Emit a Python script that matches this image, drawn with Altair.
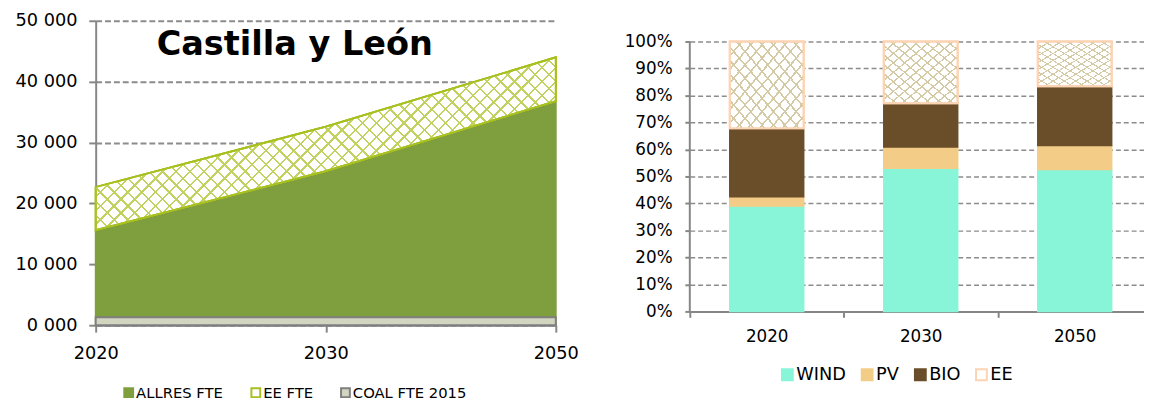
import altair as alt
import pandas as pd

# ---------------- data ----------------
years = ["2020", "2030", "2050"]

# left panel (FTE)
region_title = "Castilla y León"
left_series = ["ALLRES FTE", "EE FTE", "COAL FTE 2015"]
allres_fte = [15600, 25300, 36800]
ee_fte = [7100, 7300, 7200]          # stacked on top of ALLRES
coal_fte_2015 = [1300, 1300, 1300]
left_ticks = [0, 10000, 20000, 30000, 40000, 50000]

# right panel (shares, %)
right_series = ["WIND", "PV", "BIO", "EE"]
wind_share = [39.0, 53.0, 52.6]
pv_share = [3.5, 7.9, 8.9]
bio_share = [25.3, 16.2, 21.9]
ee_share = [32.2, 22.9, 16.6]
right_ticks = [0, 10, 20, 30, 40, 50, 60, 70, 80, 90, 100]

# ---------------- styles ----------------
FONT = "DejaVu Sans"
GREEN = "#7f9f3f"
EE_LINE = "#a8c020"
EE_HATCH = "#c2d260"
COAL_FILL = "#d2d6c0"
COAL_LINE = "#7f7f7f"
AXIS_GREY = "#868686"
GRID_GREY = "#8c8c8c"
WIND_C = "#89f5d8"
PV_C = "#f3cd88"
BIO_C = "#6a4e2a"
EE2_LINE = "#fcd4b4"
EE2_HATCH = "#d4caa6"


def stripes(color, n, frac, x1, y1, x2, y2):
    stops = []
    clear = "rgba(255,255,255,0)"
    for k in range(n):
        a = k / n
        b = (k + frac) / n
        c = (k + 1) / n
        stops += [
            {"offset": a, "color": color},
            {"offset": b, "color": color},
            {"offset": b, "color": clear},
            {"offset": c, "color": clear},
        ]
    return {"gradient": "linear", "x1": x1, "y1": y1, "x2": x2, "y2": y2, "stops": stops}


# ---------------- left panel ----------------
rows = []
for i, yr in enumerate(years):
    rows.append({"year": yr, "series": "ALLRES FTE", "value": allres_fte[i], "order": 0})
    rows.append({"year": yr, "series": "EE FTE", "value": ee_fte[i], "order": 1})
    rows.append({"year": yr, "series": "COAL FTE 2015", "value": coal_fte_2015[i], "order": 2})
df_left = pd.DataFrame(rows)

xL = alt.X(
    "year:O",
    scale=alt.Scale(type="point", padding=0, domain=years),
    axis=alt.Axis(
        title=None, labelAngle=0, labelFont=FONT, labelFontSize=18, labelColor="#000",
        labelPadding=13, tickSize=7, tickWidth=2, tickColor=AXIS_GREY,
        domainColor=AXIS_GREY, domainWidth=2, grid=False,
    ),
)
yScaleL = alt.Scale(domain=[0, 50000], nice=False)
yAxisL = alt.Axis(
    title=None, values=left_ticks, labelExpr="floor(datum.value/1000) + ' 000'",
    labelFont=FONT, labelFontSize=18, labelColor="#000", labelPadding=12,
    tickSize=7, tickWidth=2, tickColor=AXIS_GREY, domainColor=AXIS_GREY, domainWidth=2,
    grid=True, gridColor=GRID_GREY, gridWidth=2, gridDash=[6, 3],
)
legL = alt.Legend(
    orient="none", legendX=26, legendY=370, direction="horizontal", title=None,
    symbolType="square", symbolSize=80, symbolStrokeWidth=2, labelFont=FONT,
    labelFontSize=15, labelColor="#000", labelOffset=0, columnPadding=24, padding=0,
)
fillL = alt.Fill("series:N", scale=alt.Scale(domain=left_series, range=[GREEN, "#ffffff", COAL_FILL]), legend=legL)
strokeL = alt.Stroke("series:N", scale=alt.Scale(domain=left_series, range=[GREEN, EE_LINE, COAL_LINE]), legend=legL)

stacked = (
    alt.Chart(df_left)
    .transform_filter("datum.series != 'COAL FTE 2015'")
    .transform_stack(stack="value", groupby=["year"], as_=["y0", "y1"],
                     sort=[alt.SortField("order", order="ascending")])
)
yL_stack = alt.Y("y1:Q", scale=yScaleL, axis=yAxisL)
main_area = stacked.mark_area(strokeWidth=1.8).encode(
    x=xL, y=yL_stack, y2="y0:Q", fill=fillL, stroke=strokeL
)
hatchA = stacked.transform_filter("datum.series == 'EE FTE'").mark_area(
    fill=stripes(EE_HATCH, 46, 0.17, 0, 0, 1.21, 0.454), stroke=EE_LINE, strokeWidth=1.8
).encode(x=xL, y=yL_stack, y2="y0:Q")
hatchB = stacked.transform_filter("datum.series == 'EE FTE'").mark_area(
    fill=stripes(EE_HATCH, 46, 0.17, 0, 1, 1.21, 0.546), stroke=EE_LINE, strokeWidth=1.8
).encode(x=xL, y=yL_stack, y2="y0:Q")
coal_area = alt.Chart(df_left).transform_filter("datum.series == 'COAL FTE 2015'").mark_area(
    strokeWidth=2
).encode(x=xL, y=alt.Y("value:Q", scale=yScaleL, axis=yAxisL), fill=fillL, stroke=strokeL)
title_txt = alt.Chart(pd.DataFrame({"label": [region_title]})).mark_text(
    font=FONT, fontWeight="bold", fontSize=34, align="center", baseline="alphabetic", color="#000"
).encode(text="label:N", x=alt.value(202), y=alt.value(35))

left = alt.layer(main_area, hatchA, hatchB, coal_area, title_txt).properties(width=467, height=309)

# ---------------- right panel ----------------
rows = []
for i, yr in enumerate(years):
    for j, (name, arr) in enumerate(zip(right_series, [wind_share, pv_share, bio_share, ee_share])):
        rows.append({"year": yr, "tech": name, "share": arr[i], "order": j})
df_right = pd.DataFrame(rows)

xR = alt.X(
    "year:N",
    scale=alt.Scale(domain=years, paddingInner=0.52, paddingOuter=0.2347, align=0.553),
    axis=alt.Axis(
        title=None, labelAngle=0, labelFont=FONT, labelFontSize=17, labelColor="#000",
        labelPadding=12, bandPosition=0, tickOffset=-40.6, labelOffset=40.6,
        tickSize=6, tickWidth=2, tickColor=AXIS_GREY, domainColor=AXIS_GREY, domainWidth=2, grid=False,
    ),
)
# plot is 295 px tall, 100% sits 21 px below its top
yScaleR = alt.Scale(domain=[0, 107.66], nice=False)
yAxisR = alt.Axis(
    title=None, values=right_ticks, labelExpr="datum.value + '%'",
    labelFont=FONT, labelFontSize=17, labelColor="#000", labelPadding=13,
    tickSize=5, tickWidth=2, tickColor=AXIS_GREY, domain=False,
    grid=True, gridColor=GRID_GREY, gridWidth=1.5, gridDash=[5, 3],
)
legR = alt.Legend(
    orient="none", legendX=90, legendY=350, direction="horizontal", title=None,
    symbolType="square", symbolSize=121, symbolStrokeWidth=2, labelFont=FONT,
    labelFontSize=18, labelColor="#000", labelOffset=0, columnPadding=11, padding=0,
)
fillR = alt.Fill("tech:N", scale=alt.Scale(domain=right_series, range=[WIND_C, PV_C, BIO_C, "#ffffff"]), legend=legR)
strokeR = alt.Stroke("tech:N", scale=alt.Scale(domain=right_series, range=[WIND_C, PV_C, BIO_C, EE2_LINE]), legend=legR)

stackedR = alt.Chart(df_right).transform_stack(
    stack="share", groupby=["year"], as_=["y0", "y1"], sort=[alt.SortField("order", order="ascending")]
)
yR_stack = alt.Y("y1:Q", scale=yScaleR, axis=yAxisR)
bars = stackedR.mark_bar(strokeWidth=1.5).encode(
    x=xR, y=yR_stack, y2="y0:Q", fill=fillR, stroke=strokeR
)
hatchR1 = stackedR.transform_filter("datum.tech == 'EE'").mark_bar(
    fill=stripes(EE2_HATCH, 13, 0.18, 0, 0, 1, 1), stroke=EE2_LINE, strokeWidth=2
).encode(x=xR, y=yR_stack, y2="y0:Q")
hatchR2 = stackedR.transform_filter("datum.tech == 'EE'").mark_bar(
    fill=stripes(EE2_HATCH, 13, 0.18, 0, 1, 1, 0), stroke=EE2_LINE, strokeWidth=2
).encode(x=xR, y=yR_stack, y2="y0:Q")
# y-axis line running from 0 % to 100 %
axis_line = alt.Chart(pd.DataFrame({"lo": [right_ticks[0]], "hi": [right_ticks[-1]]})).mark_rule(
    color=AXIS_GREY, strokeWidth=2
).encode(x=alt.value(0), y=alt.Y("lo:Q", scale=yScaleR, axis=yAxisR), y2="hi:Q")

right = alt.layer(bars, hatchR1, hatchR2, axis_line).properties(width=461, height=295)

chart = (
    alt.hconcat(left, right, spacing=46)
    .resolve_scale(x="independent", y="independent", fill="independent", stroke="independent")
    .resolve_legend(fill="independent", stroke="independent")
    .properties(padding={"left": 7, "top": 1, "right": 0, "bottom": 0})
    .configure_view(strokeWidth=0)
)

chart.save("out.html", embed_options={"renderer": "svg", "actions": False})
